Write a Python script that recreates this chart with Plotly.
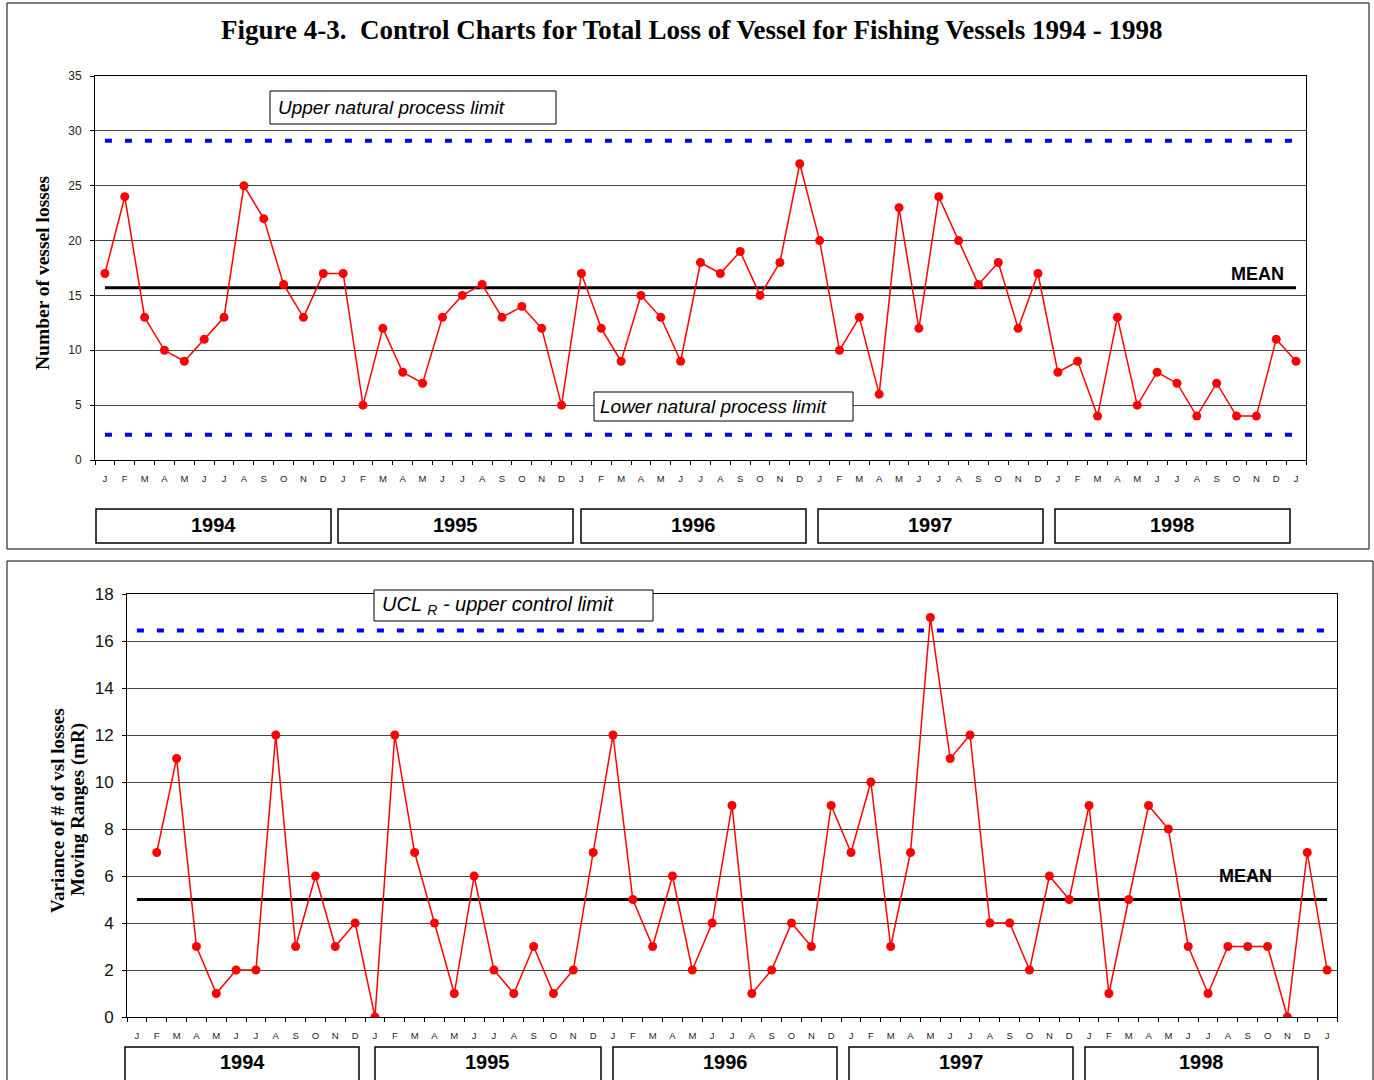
import plotly.graph_objects as go

W, H = 1374, 1080

# ---------------- data ----------------
month_letters = ["J", "F", "M", "A", "M", "J", "J", "A", "S", "O", "N", "D"]
years = ["1994", "1995", "1996", "1997", "1998"]
periods = [f"{y}-{m + 1:02d}" for y in years for m in range(12)] + ["1999-01"]
tick_text = month_letters * 5 + ["J"]

losses = [17, 24, 13, 10, 9, 11, 13, 25, 22, 16, 13, 17,
          17, 5, 12, 8, 7, 13, 15, 16, 13, 14, 12, 5,
          17, 12, 9, 15, 13, 9, 18, 17, 19, 15, 18, 27,
          20, 10, 13, 6, 23, 12, 24, 20, 16, 18, 12, 17,
          8, 9, 4, 13, 5, 8, 7, 4, 7, 4, 4, 11,
          9]

moving_ranges = [7, 11, 3, 1, 2, 2, 12, 3, 6, 3, 4,
                 0, 12, 7, 4, 1, 6, 2, 1, 3, 1, 2, 7,
                 12, 5, 3, 6, 2, 4, 9, 1, 2, 4, 3, 9,
                 7, 10, 3, 7, 17, 11, 12, 4, 4, 2, 6, 5,
                 9, 1, 5, 9, 8, 3, 1, 3, 3, 3, 0, 7,
                 2]

mean_losses = 15.7
upper_npl = 29.1
lower_npl = 2.3
mean_mr = 5.0
ucl_r = 16.45

# ---------------- helpers ----------------
def px(x):
    return x / W


def py(y):
    return 1 - y / H


RED = "#FF0000"
BLUE = "#0000FF"
GRID = "#444444"
SANS = "Liberation Sans, Arial"
SERIF = "Liberation Serif, Times New Roman"

fig = go.Figure()

# top chart traces
fig.add_trace(go.Scatter(x=[periods[0], periods[-1]], y=[upper_npl, upper_npl], mode="lines",
                         line=dict(color=BLUE, width=4, dash="7px,13px"), xaxis="x", yaxis="y",
                         hoverinfo="skip", showlegend=False))
fig.add_trace(go.Scatter(x=[periods[0], periods[-1]], y=[lower_npl, lower_npl], mode="lines",
                         line=dict(color=BLUE, width=4, dash="7px,13px"), xaxis="x", yaxis="y",
                         hoverinfo="skip", showlegend=False))
fig.add_trace(go.Scatter(x=[periods[0], periods[-1]], y=[mean_losses, mean_losses], mode="lines",
                         line=dict(color="black", width=3), xaxis="x", yaxis="y",
                         hoverinfo="skip", showlegend=False))
fig.add_trace(go.Scatter(x=periods, y=losses, mode="lines+markers",
                         line=dict(color=RED, width=1.5), marker=dict(color=RED, size=9),
                         xaxis="x", yaxis="y", showlegend=False))

# bottom chart traces
fig.add_trace(go.Scatter(x=[periods[0], periods[-1]], y=[ucl_r, ucl_r], mode="lines",
                         line=dict(color=BLUE, width=4, dash="7px,13px"), xaxis="x2", yaxis="y2",
                         hoverinfo="skip", showlegend=False))
fig.add_trace(go.Scatter(x=[periods[0], periods[-1]], y=[mean_mr, mean_mr], mode="lines",
                         line=dict(color="black", width=3), xaxis="x2", yaxis="y2",
                         hoverinfo="skip", showlegend=False))
fig.add_trace(go.Scatter(x=periods[1:], y=moving_ranges, mode="lines+markers",
                         line=dict(color=RED, width=1.5), marker=dict(color=RED, size=9),
                         xaxis="x2", yaxis="y2", showlegend=False))

xcommon = dict(type="category", categoryorder="array", categoryarray=periods,
               range=[-0.5, len(periods) - 0.5], automargin=False,
               tickmode="array", tickvals=periods, ticktext=tick_text, tickson="boundaries",
               ticks="outside", ticklen=4, tickcolor="black", tickwidth=1,
               showline=True, linecolor="black", linewidth=1, mirror=True,
               showgrid=False, zeroline=False,
               tickfont=dict(family=SANS, size=9.5, color="#222"),
               ticklabelstandoff=10, fixedrange=True)

fig.update_layout(
    width=W, height=H, autosize=False,
    margin=dict(l=0, r=0, t=0, b=0, pad=0),
    paper_bgcolor="white", plot_bgcolor="white",
    showlegend=False,
    xaxis=dict(domain=[px(95), px(1306)], anchor="y", **xcommon),
    yaxis=dict(domain=[py(460), py(76)], anchor="x", range=[0, 35], dtick=5, automargin=False,
               showgrid=True, gridcolor=GRID, gridwidth=1, zeroline=False,
               ticks="outside", ticklen=4, tickcolor="black",
               showline=True, linecolor="black", mirror=True,
               tickfont=dict(family=SANS, size=12, color="#222"),
               ticklabelstandoff=6, fixedrange=True),
    xaxis2=dict(domain=[px(127), px(1337)], anchor="y2", **xcommon),
    yaxis2=dict(domain=[py(1017), py(594)], anchor="x2", range=[0, 18], dtick=2, automargin=False,
                showgrid=True, gridcolor=GRID, gridwidth=1, zeroline=False,
                ticks="outside", ticklen=4, tickcolor="black",
                showline=True, linecolor="black", mirror=True,
                tickfont=dict(family=SANS, size=17, color="#111"),
                ticklabelstandoff=5, fixedrange=True),
)

shapes = []
annotations = []

# panel frames
shapes.append(dict(type="rect", xref="paper", yref="paper", x0=px(7), x1=px(1369), y0=py(549), y1=py(3),
                   line=dict(color="black", width=1), layer="below"))
shapes.append(dict(type="rect", xref="paper", yref="paper", x0=px(7), x1=px(1373), y0=py(1090), y1=py(561),
                   line=dict(color="black", width=1), layer="below"))

# title
annotations.append(dict(text="<b>Figure 4-3.  Control Charts for Total Loss of Vessel for Fishing Vessels 1994 - 1998</b>",
                        xref="paper", yref="paper", x=px(692), y=py(30), xanchor="center", yanchor="middle",
                        showarrow=False, font=dict(family=SERIF, size=27, color="black")))

# y titles
annotations.append(dict(text="<b>Number of vessel losses</b>", textangle=-90,
                        xref="paper", yref="paper", x=px(42), y=py(273), xanchor="center", yanchor="middle",
                        showarrow=False, font=dict(family=SERIF, size=19.5, color="black")))
annotations.append(dict(text="<b>Variance of # of vsl losses</b>", textangle=-90,
                        xref="paper", yref="paper", x=px(57), y=py(811), xanchor="center", yanchor="middle",
                        showarrow=False, font=dict(family=SERIF, size=19, color="black")))
annotations.append(dict(text="<b>Moving Ranges (mR)</b>", textangle=-90,
                        xref="paper", yref="paper", x=px(78), y=py(810), xanchor="center", yanchor="middle",
                        showarrow=False, font=dict(family=SERIF, size=19, color="black")))

# labeled boxes
def text_box(x0, x1, y0, y1, text, tx, size=19):
    shapes.append(dict(type="rect", xref="paper", yref="paper", x0=px(x0), x1=px(x1), y0=py(y1), y1=py(y0),
                       line=dict(color="black", width=1), fillcolor="white", layer="above"))
    annotations.append(dict(text=text, xref="paper", yref="paper", x=px(tx), y=py((y0 + y1) / 2),
                            xanchor="left", yanchor="middle", showarrow=False,
                            font=dict(family=SANS, size=size, color="black")))


text_box(270, 556, 91, 124, "<i>Upper natural process limit</i>", 276)
text_box(594, 853, 392, 421, "<i>Lower natural process limit</i>", 598)
text_box(374, 653, 590, 621, "<i>UCL <sub>R</sub> - upper control limit</i>", 380, size=20)

# MEAN labels
annotations.append(dict(text="<b>MEAN</b>", xref="paper", yref="paper", x=px(1257), y=py(274),
                        xanchor="center", yanchor="middle", showarrow=False,
                        font=dict(family=SANS, size=18, color="black")))
annotations.append(dict(text="<b>MEAN</b>", xref="paper", yref="paper", x=px(1245), y=py(876),
                        xanchor="center", yanchor="middle", showarrow=False,
                        font=dict(family=SANS, size=18, color="black")))

# year boxes (pixel extents: layout only)
top_year_boxes = [(96, 331), (338, 573), (581, 806), (818, 1043), (1055, 1290)]
bottom_year_boxes = [(125, 359), (375, 601), (613, 837), (849, 1073), (1085, 1318)]
for (x0, x1), yr in zip(top_year_boxes, years):
    shapes.append(dict(type="rect", xref="paper", yref="paper", x0=px(x0), x1=px(x1), y0=py(543), y1=py(509),
                       line=dict(color="black", width=1.5), fillcolor="white"))
    annotations.append(dict(text=f"<b>{yr}</b>", xref="paper", yref="paper", x=px((x0 + x1) / 2), y=py(525),
                            xanchor="center", yanchor="middle", showarrow=False,
                            font=dict(family=SANS, size=20, color="black")))
for (x0, x1), yr in zip(bottom_year_boxes, years):
    shapes.append(dict(type="rect", xref="paper", yref="paper", x0=px(x0), x1=px(x1), y0=py(1095), y1=py(1047),
                       line=dict(color="black", width=1.5), fillcolor="white"))
    annotations.append(dict(text=f"<b>{yr}</b>", xref="paper", yref="paper", x=px((x0 + x1) / 2), y=py(1062),
                            xanchor="center", yanchor="middle", showarrow=False,
                            font=dict(family=SANS, size=20, color="black")))

fig.update_layout(shapes=shapes, annotations=annotations)

fig.write_html("out.html", config={"displayModeBar": False},
               post_script="document.body.style.margin='0';document.body.style.overflow='hidden';")
